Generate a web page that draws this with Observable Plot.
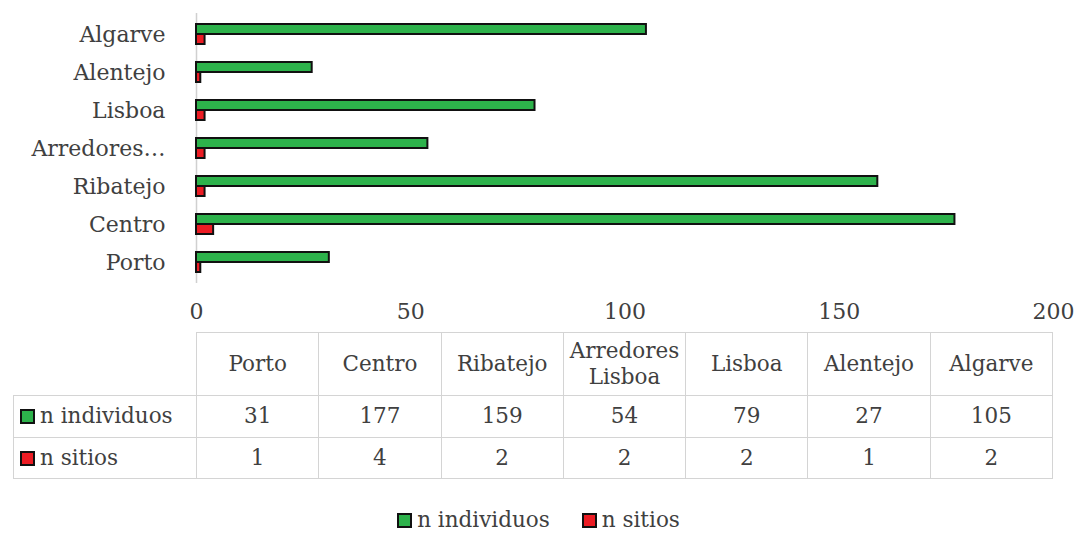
<!DOCTYPE html>
<html>
<head>
<meta charset="utf-8">
<script src="https://cdn.jsdelivr.net/npm/d3@7"></script>
<script src="https://cdn.jsdelivr.net/npm/@observablehq/plot@0.6"></script>
<style>
  html, body { margin: 0; padding: 0; background: #fff; }
  #wrap { position: relative; width: 1077px; height: 536px; overflow: hidden; font-family: "DejaVu Serif", "Liberation Serif", serif; color: #404040; }
  #chart { position: absolute; left: 0; top: 0; }
  table { position: absolute; left: 13px; top: 332px; border-collapse: collapse; table-layout: fixed; font-size: 21.5px; }
  td { border: 1px solid #d4d4d4; text-align: center; padding: 0; line-height: 1.22; }
  td.blank { border: none; }
  td.lab { text-align: left; padding-left: 6px; white-space: nowrap; }
  .key { display: inline-block; width: 11px; height: 11px; border: 2px solid #111; vertical-align: -1px; margin-right: 5px; }
  #legend { position: absolute; left: 0; width: 1077px; top: 507px; text-align: center; font-size: 21.5px; }
  #legend span.item { margin: 0 16px; white-space: nowrap; }
</style>
</head>
<body>
<div id="wrap">
  <div id="chart"></div>
  <table id="tbl"></table>
  <div id="legend"></div>
</div>
<script>
// ---- data ----
const regions = ["Porto", "Centro", "Ribatejo", "Arredores Lisboa", "Lisboa", "Alentejo", "Algarve"];
const individuos = [31, 177, 159, 54, 79, 27, 105];
const sitios = [1, 4, 2, 2, 2, 1, 2];
const seriesNames = ["n individuos", "n sitios"];
const seriesColors = ["#2db24b", "#ec1c24"];
const xTicks = [0, 50, 100, 150, 200];

const rows = regions.map((r, i) => ({region: r, ind: individuos[i], sit: sitios[i]}));
const yOrder = regions.slice().reverse(); // Algarve on top

const plot = Plot.plot({
  width: 1077,
  height: 330,
  marginLeft: 196,
  marginRight: 24,
  marginTop: 13,
  marginBottom: 47,
  style: {fontFamily: "DejaVu Serif, Liberation Serif, serif", fontSize: "22px", color: "#404040", background: "transparent"},
  x: {domain: [0, 200], ticks: xTicks, tickSize: 0, tickPadding: 20, label: null},
  y: {domain: yOrder, paddingInner: 0.48, paddingOuter: 0.25, tickSize: 0, tickPadding: 31, label: null,
      tickFormat: d => d === "Arredores Lisboa" ? "Arredores…" : d},
  marks: [
    Plot.ruleX([0], {stroke: "#d0d0d0", strokeWidth: 1.5}),
    Plot.barX(rows, {y: "region", x: "ind", fill: seriesColors[0], stroke: "#111", strokeWidth: 2, insetBottom: 10}),
    Plot.barX(rows, {y: "region", x: "sit", fill: seriesColors[1], stroke: "#111", strokeWidth: 2, insetTop: 10})
  ]
});
document.getElementById("chart").appendChild(plot);

// ---- data table ----
const tbl = document.getElementById("tbl");
const colgroup = document.createElement("colgroup");
const c0 = document.createElement("col"); c0.style.width = "183px"; colgroup.appendChild(c0);
regions.forEach(() => { const c = document.createElement("col"); c.style.width = (856 / regions.length) + "px"; colgroup.appendChild(c); });
tbl.appendChild(colgroup);
const hr = document.createElement("tr"); hr.style.height = "63px";
const blank = document.createElement("td"); blank.className = "blank"; hr.appendChild(blank);
regions.forEach(r => { const td = document.createElement("td"); td.textContent = r; hr.appendChild(td); });
tbl.appendChild(hr);
[individuos, sitios].forEach((vals, si) => {
  const tr = document.createElement("tr"); tr.style.height = si === 0 ? "42px" : "41px";
  const lab = document.createElement("td"); lab.className = "lab";
  const k = document.createElement("span"); k.className = "key"; k.style.background = seriesColors[si];
  lab.appendChild(k); lab.appendChild(document.createTextNode(seriesNames[si]));
  tr.appendChild(lab);
  vals.forEach(v => { const td = document.createElement("td"); td.textContent = v; tr.appendChild(td); });
  tbl.appendChild(tr);
});

// ---- legend ----
const leg = document.getElementById("legend");
seriesNames.forEach((n, i) => {
  const s = document.createElement("span"); s.className = "item";
  const k = document.createElement("span"); k.className = "key"; k.style.background = seriesColors[i];
  s.appendChild(k); s.appendChild(document.createTextNode(n));
  leg.appendChild(s);
});
</script>
</body>
</html>
